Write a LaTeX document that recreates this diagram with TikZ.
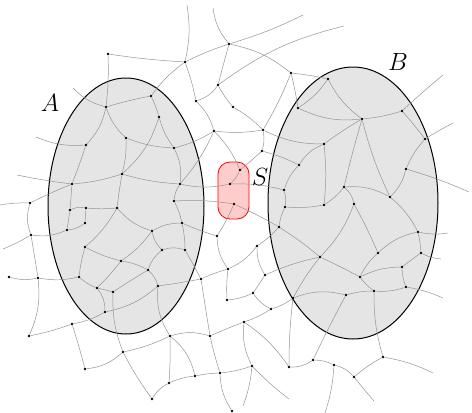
\documentclass[tikz,border=0pt]{standalone}
\usetikzlibrary{shapes.geometric,backgrounds}
\begin{document}
\begin{tikzpicture}[x=1pt,y=-1pt,
 dot/.style={circle,fill=black,inner sep=0pt,minimum size=2.8pt},
 edge/.style={black!42,line width=0.5pt},
 region/.style={ellipse,draw=black,line width=1pt,fill=gray!20,inner sep=0pt},
 sep/.style={draw=red,line width=0.8pt,fill=red!20,rounded corners=12pt,inner sep=0pt},
 lbl/.style={font=\fontsize{27}{30}\selectfont}]
\useasboundingbox (0,0) rectangle (472,413);
% the two sets and the separator
\begin{scope}[on background layer]
\node[region,minimum width=156pt,minimum height=256pt] (setA) at (126,206) {};
\node[region,minimum width=170pt,minimum height=272pt] (setB) at (353,203) {};
\node[sep,minimum width=31pt,minimum height=57pt] (setS) at (233.5,190.5) {};
\end{scope}
\node[lbl] (labA) at (50,103) {$A$};
\node[lbl] (labB) at (398,62) {$B$};
\node[lbl] (labS) at (260,177) {$S$};
% vertices
\foreach \n/\x/\y in {u1/108/54,u2/185/62,u3/229/44,u4/218/85,u5/196/101,u6/233/107,
 u7/214/131,u8/291/73,u9/263/130,u10/262/151,u11/30/203,u12/31/235,u13/9/277,u14/38/278,
 u15/29/336,u16/72/324,u17/85/369,u18/123/352,u19/170/336,u20/210/336,u21/169/383,
 u22/152/399,u23/195/376,u24/220/373,u25/232/411,u26/217/236,u27/228/269,u28/201/279,
 u29/227/300,u30/257/246,u31/265/275,u32/253/293,u33/271/309,u34/244/322,u35/252/366,
 u36/289/367,u37/313/360,u38/334/365,u39/354/377,u40/383/357,
 a1/151/96,a2/106/107,a3/159/117,a4/126/138,a5/86/145,a6/174/148,a7/122/174,a8/72/184,
 a9/180/184,a10/174/201,a11/70/210,a12/86/208,a13/117/208,a14/85/223,a15/67/230,
 a16/152/231,a17/182/223,a18/85/247,a19/162/250,a20/185/250,a21/121/261,a22/148/270,
 a23/79/277,a24/97/288,a25/113/292,a26/158/286,a27/105/312,
 s1/240/170,s2/230/184,s3/234/204,
 b1/328/79,b2/298/108,b3/362/119,b4/402/111,b5/324/144,b6/425/139,b7/299/165,b8/406/169,
 b9/284/190,b10/344/187,b11/390/197,b12/354/204,b13/324/205,b14/285/207,b15/279/227,
 b16/320/257,b17/418/232,b18/421/253,b19/378/253,b20/402/267,b21/360/277,b22/406/287,
 b23/374/291,b24/346/295,b25/293/298}
 \node[dot] (\n) at (\x,\y) {};
% loose ends
\foreach \n/\x/\y in {f1/187/5,f2/213/8,f3/303/15,f4/344/26,f5/443/75,f6/453/123,
 f7/469/192,f8/448/233,f9/441/259,f10/443/298,f11/433/373,f12/374/401,f13/325/413,
 f14/289/399,f15/243/406,f16/73/88,f17/36/137,f18/17/175,f19/0/205,f20/3/249}
 \coordinate (\n) at (\x,\y);
% connections
\pgfmathsetseed{7}
\begin{scope}[on background layer]
\foreach \p/\q in {u1/u2,u1/a2,u2/u3,u2/a1,u2/u5,u3/u4,u3/u8,u4/u5,u4/u6,u5/u7,u6/u9,
 u7/u9,u7/a6,u7/s1,u7/a9,u8/b1,u8/b2,u8/u9,u9/u10,u9/b5,u10/s1,u10/b7,
 a1/a2,a1/a3,a2/a4,a2/a5,a3/a6,a3/a7,a4/a6,a4/a7,a5/a8,a6/a9,a7/a8,a7/a9,a7/a13,
 a8/u11,a8/a11,a9/a10,a9/s2,a10/s3,a10/a17,a11/a12,a11/a15,a12/a14,a12/a13,a14/a15,
 a13/a18,a13/a16,a16/a17,a16/a19,a16/a21,a17/a20,a17/u26,a19/a20,a19/a22,a20/u28,
 a21/a22,a21/a24,a22/a25,a22/a26,a18/a23,a18/a21,a15/u12,a23/a24,a24/a25,a24/a27,
 a26/a27,a26/u19,a26/u28,a27/u16,a25/u18,
 u11/u12,u12/u14,u13/u14,u14/a23,u14/u15,u15/u16,u16/u17,u17/u18,u18/u19,u18/u22,
 u19/u20,u19/u21,u19/u23,u20/u24,u20/u28,u20/u34,u21/u22,u21/u23,u23/u24,u24/u25,
 u24/u35,u26/u27,u27/u28,u27/u29,u27/u30,u29/u32,u26/s3,
 b14/b15,b15/b16,b15/u30,b15/s3,b16/b21,b16/b25,b16/u31,b16/b12,u30/u31,u31/u32,
 u32/u33,u33/b25,u33/u34,u34/u35,u34/u36,u36/u37,u36/b25,u37/u38,u37/b24,u38/u39,
 u39/u40,u40/b23,
 b17/b18,b17/b19,b18/b20,b19/b21,b20/b21,b20/b22,b21/b23,b22/b23,b23/b24,b24/b25,
 b1/b2,b1/b3,b2/b3,b3/b4,b3/b5,b3/b10,b3/b11,b4/b6,b5/b7,b5/b13,b6/b8,b7/b9,b8/b11,
 b10/b11,b10/b12,b10/b13,b11/b17,b9/s2,b9/b14,b13/b14,b12/b19,s1/s2,
 u2/f1,u3/f2,u3/f3,u4/f4,b4/f5,b6/f6,b8/f7,b17/f8,b18/f9,b22/f10,u40/f11,u39/f12,
 u38/f13,u35/f14,u35/f15,a2/f16,a5/f17,a8/f18,u11/f19,u12/f20}
 {\pgfmathsetmacro\bnd{rand*18}
  \draw[edge] (\p) to[bend left=\bnd] (\q);}
\end{scope}
\end{tikzpicture}
\end{document}
